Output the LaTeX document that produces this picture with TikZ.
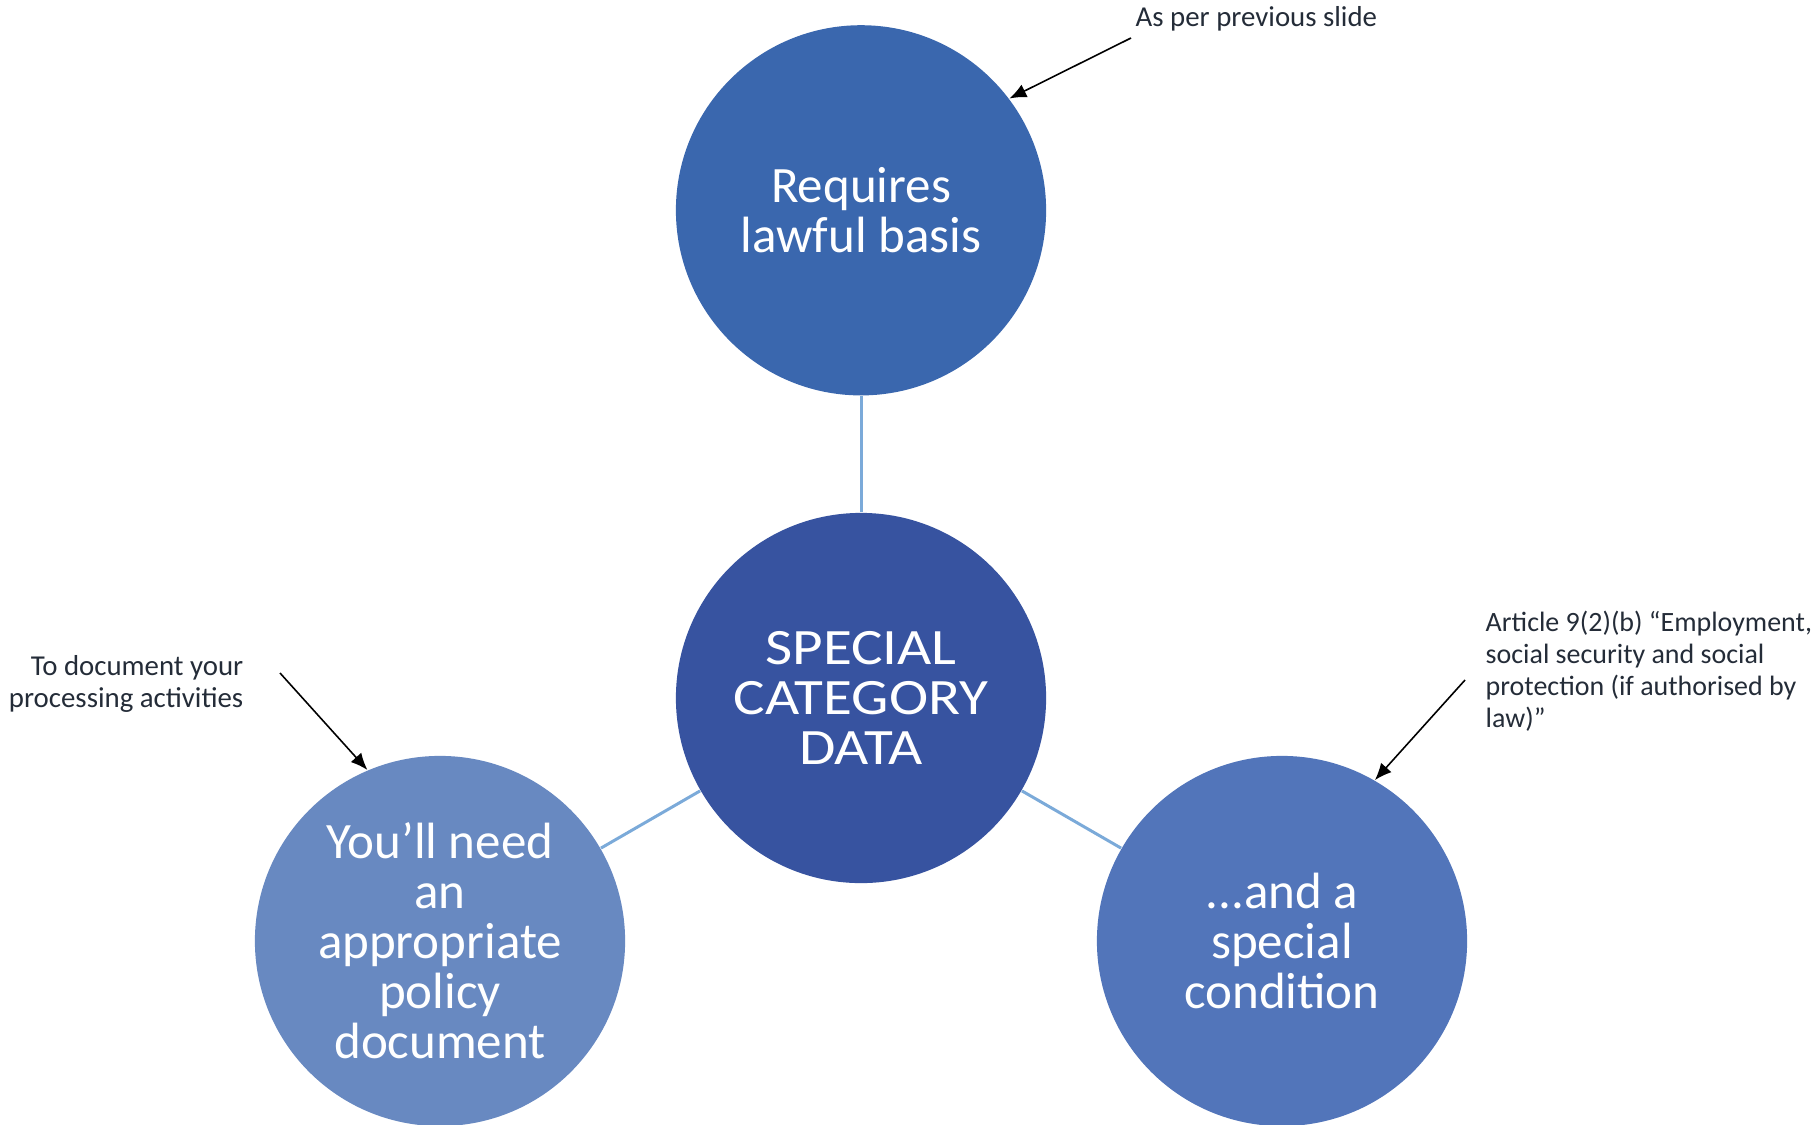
\documentclass[tikz,border=0pt]{standalone}
\usepackage{fontspec}
\setmainfont{Carlito}
\newfontfamily\widecaps[FakeStretch=1.16]{Carlito}
\usetikzlibrary{positioning}
\usetikzlibrary{arrows.meta}

\definecolor{coreblue}{HTML}{3753A0}
\definecolor{basisblue}{HTML}{3A67AE}
\definecolor{policyblue}{HTML}{6889C1}
\definecolor{conditionblue}{HTML}{5275BA}
\definecolor{linkblue}{HTML}{7BAAD9}
\definecolor{notegrey}{HTML}{242C38}

\tikzset{
  bubble/.style={circle, minimum size=3.7cm, inner sep=0pt, text=white, align=center,
    font=\fontsize{14.5pt}{14.2pt}\selectfont},
  note/.style={inner sep=0pt, text=notegrey, font=\fontsize{8.2pt}{9.1pt}\selectfont},
  link/.style={draw=linkblue, line width=0.85pt},
  pointer/.style={draw=black, line width=0.45pt, -{Latex[length=4.8pt,width=4pt]}}
}

\begin{document}
\begin{tikzpicture}[x=0.01cm, y=-0.01cm]
  \useasboundingbox (0,0) rectangle (1816,1124);

  % circles
  \node [bubble, fill=coreblue, font=\widecaps\fontsize{14.5pt}{14.2pt}\selectfont] at (861,698) (core)
    {SPECIAL\\CATEGORY\\DATA};
  \node [bubble, fill=basisblue, above=1.16cm of core] (basis) {Requires\\lawful basis};
  \node [bubble, fill=policyblue] at (440,941) (policy) {You’ll need\\an\\appropriate\\policy\\document};
  \node [bubble, fill=conditionblue] at (1282,941) (condition) {...and a\\special\\condition};

  \draw [link] (basis) -- (core);
  \draw [link] (core) -- (policy);
  \draw [link] (core) -- (condition);

  % side notes
  \node [note, anchor=base west] at (1135,27) (slidenote) {As per previous slide};
  \node [note, anchor=base east, align=right] at (244,707) (docnote) {To document your\\processing activities};
  \node [note, anchor=base west, align=left, font=\fontsize{7.95pt}{9.1pt}\selectfont] at (1485,727) (articlenote)
    {Article 9(2)(b) “Employment,\\social security and social\\protection (if authorised by\\law)”};

  \coordinate (slidefrom) at (1131,38);
  \coordinate (docfrom) at (280,673);
  \coordinate (articlefrom) at (1465,680);
  \draw [pointer] (slidefrom) -- (basis.37);
  \draw [pointer] (docfrom) -- (policy.113);
  \draw [pointer] (articlefrom) -- (condition.60);

\end{tikzpicture}
\end{document}
